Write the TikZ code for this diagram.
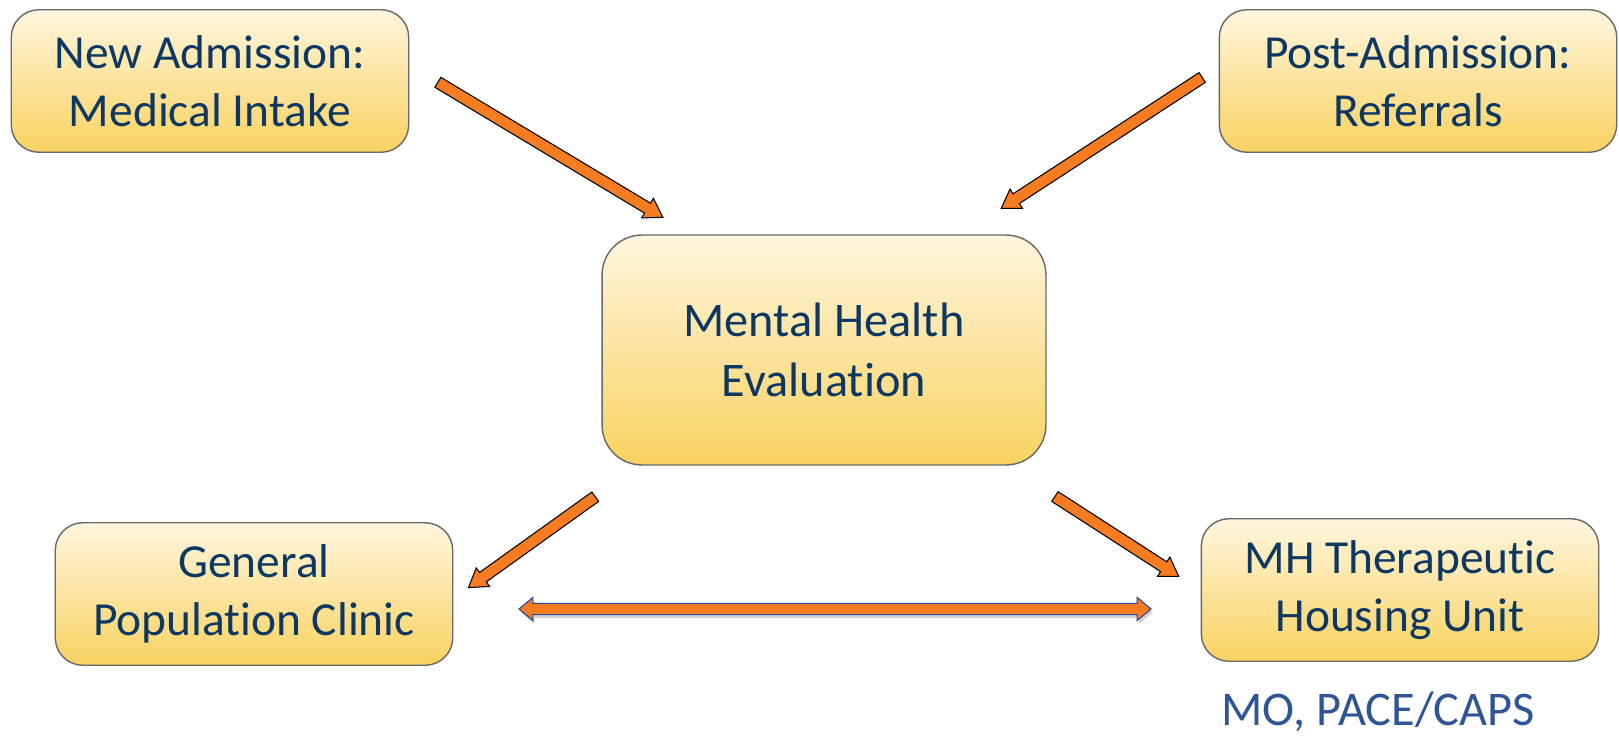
\documentclass[tikz,border=0pt]{standalone}
\usepackage{fontspec}
\setmainfont{Carlito}[Ligatures = NoCommon]
\usetikzlibrary{shapes.arrows,shadows,calc}

\definecolor{boxtop}{RGB}{255,246,222}
\definecolor{boxbot}{RGB}{249,210,96}
\definecolor{boxline}{RGB}{105,105,105}
\definecolor{boxtext}{RGB}{14,56,98}
\definecolor{sitetext}{RGB}{47,85,151}
\definecolor{arroworange}{RGB}{245,124,32}
\definecolor{arrowblue}{RGB}{40,70,150}

\tikzset{
  stage/.style = {draw = boxline, line width = .8pt, rounded corners = .55cm,
    top color = boxtop, bottom color = boxbot, text = boxtext, align = center,
    font = \fontsize{27}{33}\selectfont, minimum width = 7.95cm, minimum height = 2.85cm},
  flow/.style = {single arrow, draw = black, line width = .6pt, fill = arroworange,
    inner sep = 3pt, single arrow head extend = 3.2pt, single arrow tip angle = 65},
  swap/.style = {double arrow, draw = arrowblue, line width = .6pt, fill = arroworange,
    inner sep = 2.9pt, double arrow head extend = 3.4pt, double arrow tip angle = 80,
    drop shadow = {opacity = .35, shadow xshift = 1pt, shadow yshift = -2pt}}
}

% block arrow between two points: style, from, to
\newcommand\blockarrow[3]{%
  \path let \p1 = (#2), \p2 = (#3),
    \n1 = {atan2(\y2-\y1, \x2-\x1)}, \n2 = {veclen(\x2-\x1, \y2-\y1)} in
    ($(\p1)!.5!(\p2)$) node[#1, rotate = \n1, minimum height = \n2] {};}

\begin{document}
\begin{tikzpicture}[x = .02cm, y = -.02cm]
  \useasboundingbox (0, 0) rectangle (1619, 737);

  \node[stage] (intake) at (210, 81) {New Admission:\\Medical Intake};
  \node[stage] (referral) at (1418, 81) {Post-Admission:\\Referrals};
  \node[stage, minimum width = 8.88cm, minimum height = 4.6cm, rounded corners = .8cm,
    font = \fontsize{27.5}{34}\selectfont] (evaluation) at (824, 350) {Mental Health\\Evaluation};
  \node[stage] (genpop) at (254, 594) {General\\Population Clinic};
  \node[stage] (thu) at (1400, 590) {MH Therapeutic\\Housing Unit};
  \node[text = sitetext, font = \fontsize{27.5}{33}\selectfont] (sites) at (1378, 712) {MO, PACE/CAPS};

  % arrow ends
  \coordinate (intake-out) at (434, 80);
  \coordinate (eval-in1) at (659, 215);
  \coordinate (referral-out) at (1206, 75);
  \coordinate (eval-in2) at (1005, 206);
  \coordinate (eval-out1) at (599, 494);
  \coordinate (genpop-in) at (472, 585);
  \coordinate (eval-out2) at (1051, 494);
  \coordinate (thu-in) at (1175, 574);
  \coordinate (genpop-side) at (519, 609);
  \coordinate (thu-side) at (1151, 609);

  \blockarrow{flow}{intake-out}{eval-in1}
  \blockarrow{flow}{referral-out}{eval-in2}
  \blockarrow{flow}{eval-out1}{genpop-in}
  \blockarrow{flow}{eval-out2}{thu-in}
  \blockarrow{swap}{genpop-side}{thu-side}
\end{tikzpicture}
\end{document}
